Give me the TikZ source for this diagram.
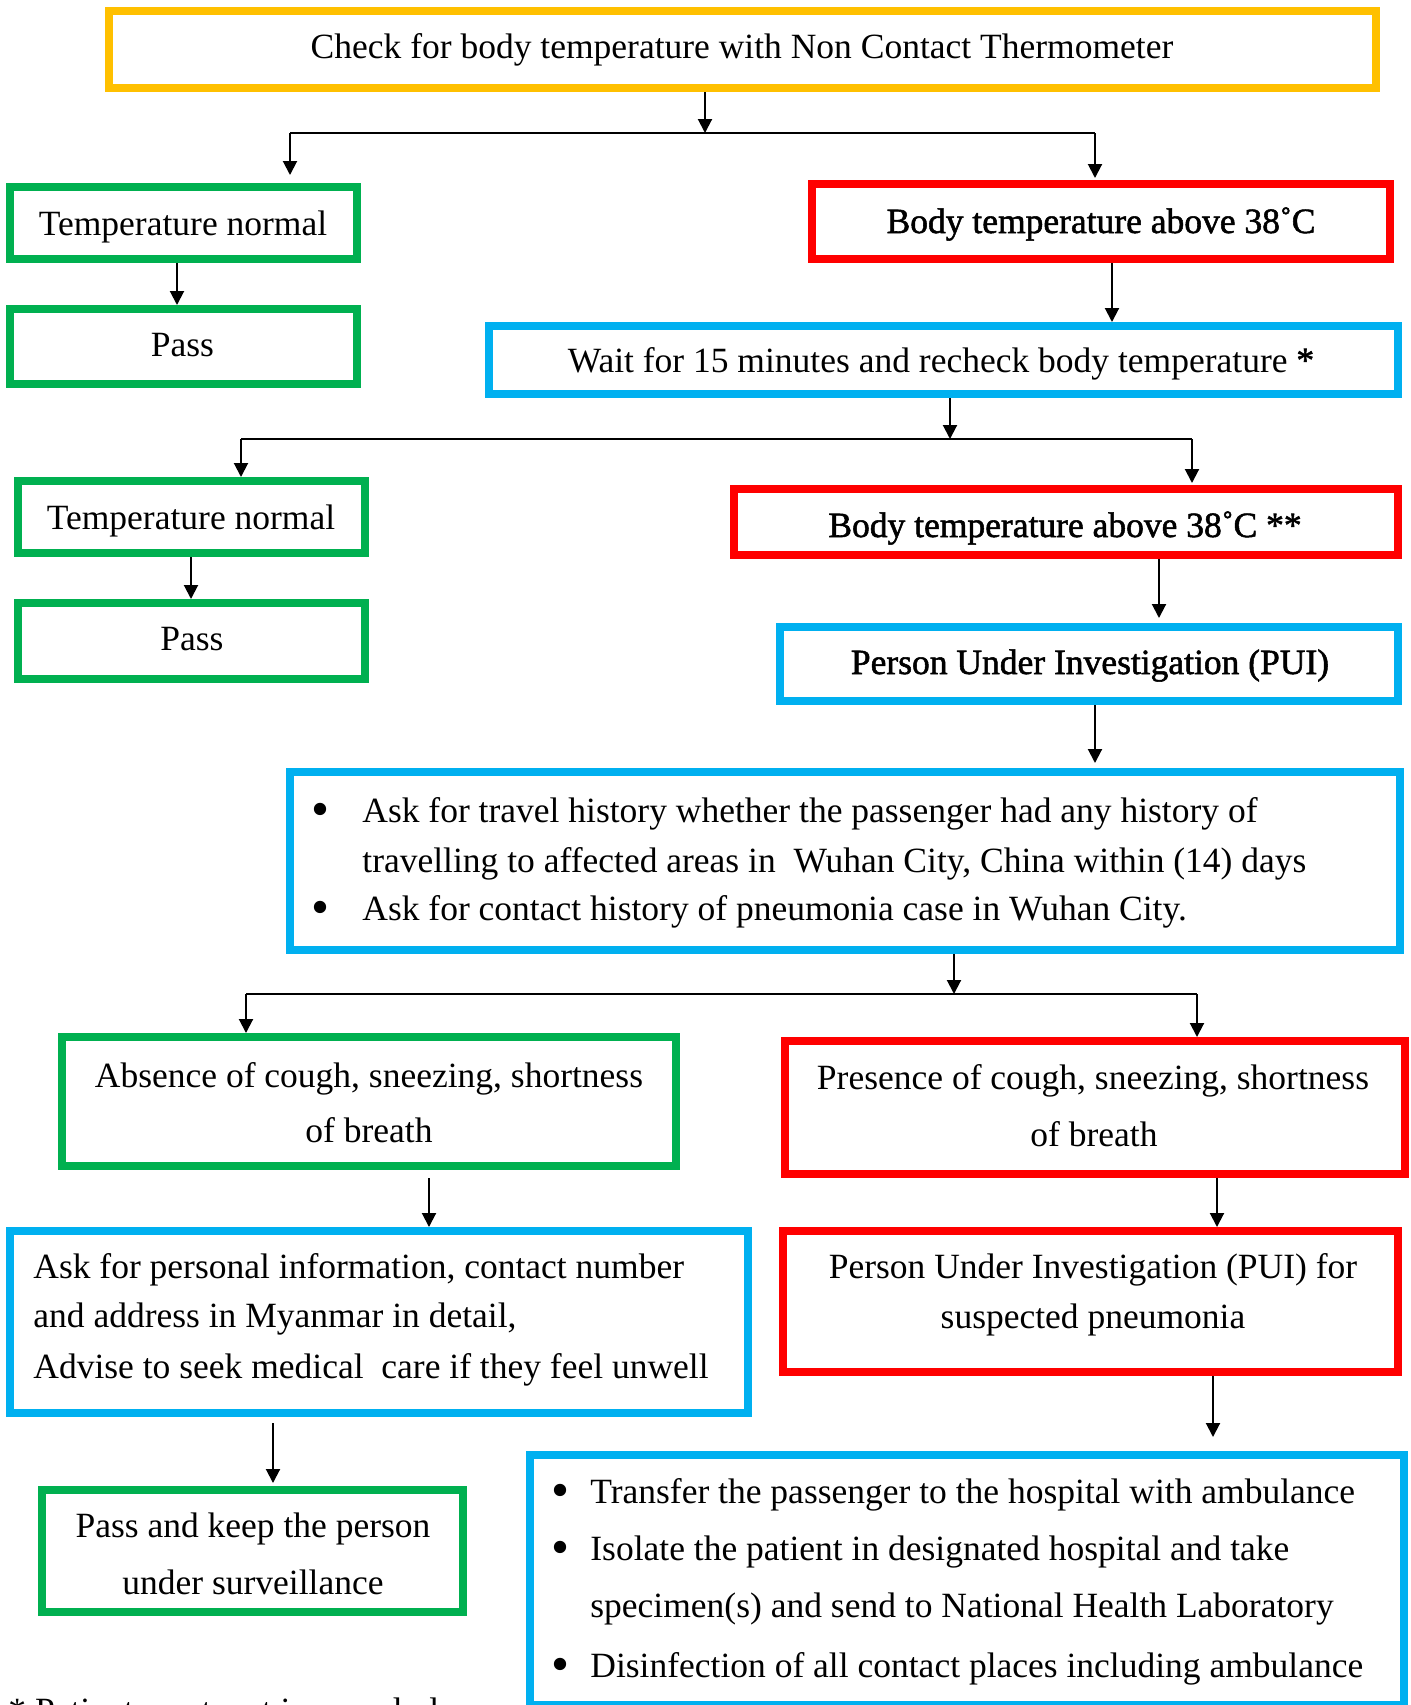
\documentclass[tikz,border=0pt]{standalone}
\usepackage{fontspec}
\setmainfont{Liberation Serif}
\newfontfamily\boldish{Liberation Serif}[FakeBold=1.5]
\usetikzlibrary{arrows.meta}
\definecolor{cyellow}{HTML}{FFC000}
\definecolor{cgreen}{HTML}{00B050}
\definecolor{cred}{HTML}{FF0000}
\definecolor{cblue}{HTML}{00B0F0}
\tikzset{
  box/.style={draw=#1, line width=4pt, rectangle, inner sep=0pt},
  txt/.style={anchor=base, inner sep=0pt, font=\fontsize{17.75pt}{20pt}\selectfont},
  ltxt/.style={txt, anchor=base west},
  bul/.style={txt},
  arr/.style={-{Triangle[length=7pt,width=7pt]}, line width=1pt, black},
  link/.style={line width=1pt, black},
}
\newcommand\bx[6]{\node[box=#2, minimum width=#5*0.5pt, minimum height=#6*0.5pt] (#1) at (#3,#4) {};}
\newcommand\bigbul{\raisebox{-2pt}{\scalebox{1.45}{•}}}
\begin{document}
\begin{tikzpicture}[x=0.5pt,y=-0.5pt]
\useasboundingbox (0,0) rectangle (1411,1705);
% boxes
\bx{A}{cyellow}{742.5}{49.5}{1267}{77}
\bx{B}{cgreen}{183.5}{223}{347}{72}
\bx{C}{cgreen}{183.5}{346.5}{347}{75}
\bx{D}{cred}{1101}{221.5}{578}{75}
\bx{E}{cblue}{943.5}{360}{909}{68}
\bx{F}{cgreen}{191.5}{517}{347}{72}
\bx{G}{cgreen}{191.5}{641}{347}{76}
\bx{H}{cred}{1066}{522}{664}{66}
\bx{I}{cblue}{1089}{664}{618}{74}
\bx{J}{cblue}{845}{861}{1110}{178}
\bx{K}{cgreen}{369}{1101.5}{614}{129}
\bx{L}{cred}{1095}{1107.5}{620}{133}
\bx{M}{cblue}{379}{1322}{738}{182}
\bx{N}{cred}{1090.5}{1301.5}{615}{141}
\bx{O}{cgreen}{252.5}{1551}{421}{122}
\bx{P}{cblue}{967}{1580}{874}{250}
% texts
\node[txt] (tA) at (742,58) {Check for body temperature with Non Contact Thermometer};
\node[txt] (tB) at (183,235) {Temperature normal};
\node[txt] (tC) at (182.5,356) {Pass};
\node[txt] (tD) at (1101,233) {\boldish Body temperature above 38˚C};
\node[txt] (tE) at (941,372) {Wait for 15 minutes and recheck body temperature {\boldish *}};
\node[txt] (tF) at (191,529) {Temperature normal};
\node[txt] (tG) at (192,650) {Pass};
\node[txt] (tH) at (1065,537) {\boldish Body temperature above 38˚C **};
\node[txt] (tI) at (1090,674) {\boldish Person Under Investigation (PUI)};
\node[bul] (bJ1) at (321,822) {\bigbul};
\node[bul] (bJ3) at (321,920) {\bigbul};
\node[ltxt] (tJ1) at (362,822) {Ask for travel history whether the passenger had any history of};
\node[ltxt] (tJ2) at (362,872) {travelling to affected areas in\ \ Wuhan City, China within (14) days};
\node[ltxt] (tJ3) at (362,920) {Ask for contact history of pneumonia case in Wuhan City.};
\node[txt] (tK1) at (369,1087) {Absence of cough, sneezing, shortness};
\node[txt] (tK2) at (369,1142) {of breath};
\node[txt] (tL1) at (1093,1089) {Presence of cough, sneezing, shortness};
\node[txt] (tL2) at (1094,1146) {of breath};
\node[ltxt] (tM1) at (33,1278) {Ask for personal information, contact number};
\node[ltxt] (tM2) at (33,1327) {and address in Myanmar in detail,};
\node[ltxt] (tM3) at (33,1378) {Advise to seek medical\ \ care if they feel unwell};
\node[txt] (tN1) at (1093,1278) {Person Under Investigation (PUI) for};
\node[txt] (tN2) at (1093,1328) {suspected pneumonia};
\node[txt] (tO1) at (253,1537) {Pass and keep the person};
\node[txt] (tO2) at (253,1594) {under surveillance};
\node[bul] (bP1) at (561,1503) {\bigbul};
\node[bul] (bP2) at (561,1560) {\bigbul};
\node[bul] (bP4) at (561,1677) {\bigbul};
\node[ltxt] (tP1) at (590,1503) {Transfer the passenger to the hospital with ambulance};
\node[ltxt] (tP2) at (590,1560) {Isolate the patient in designated hospital and take};
\node[ltxt] (tP3) at (590,1617) {specimen(s) and send to National Health Laboratory};
\node[ltxt] (tP4) at (590,1677) {Disinfection of all contact places including ambulance};
\node[ltxt] (tfoot) at (8,1722) {* Patient must rest in a cool place};
% connectors
\coordinate (j1) at (705,133);
\coordinate (j1l) at (290,133);
\coordinate (j1r) at (1095,133);
\draw[arr] (A.south -| j1) -- (j1);
\draw[link] (j1l) -- (j1r);
\draw[arr, shorten >=4pt] (j1l) -- (j1l |- B.north);
\draw[arr, shorten >=1pt] (j1r) -- (j1r |- D.north);
\coordinate (x1) at (177,0);
\draw[arr] (B.south -| x1) -- (C.north -| x1);
\coordinate (x2) at (1112,0);
\draw[arr] (D.south -| x2) -- (E.north -| x2);
\coordinate (j2) at (950,439);
\coordinate (j2l) at (241,439);
\coordinate (j2r) at (1192,439);
\draw[arr] (E.south -| j2) -- (j2);
\draw[link] (j2l) -- (j2r);
\draw[arr] (j2l) -- (j2l |- F.north);
\draw[arr, shorten >=1pt] (j2r) -- (j2r |- H.north);
\coordinate (x3) at (191,0);
\draw[arr] (F.south -| x3) -- (G.north -| x3);
\coordinate (x4) at (1159,0);
\draw[arr, shorten >=2.5pt] (H.south -| x4) -- (I.north -| x4);
\coordinate (x5) at (1095,0);
\draw[arr, shorten >=2.5pt] (I.south -| x5) -- (J.north -| x5);
\coordinate (j3) at (954,994);
\coordinate (j3l) at (246,994);
\coordinate (j3r) at (1197,994);
\draw[arr] (J.south -| j3) -- (j3);
\draw[link] (j3l) -- (j3r);
\draw[arr] (j3l) -- (j3l |- K.north);
\draw[arr] (j3r) -- (j3r |- L.north);
\coordinate (x6) at (429,0);
\draw[arr, shorten <=4pt] (K.south -| x6) -- (M.north -| x6);
\coordinate (x7) at (1217,0);
\draw[arr] (L.south -| x7) -- (N.north -| x7);
\coordinate (x8) at (273,0);
\draw[arr, shorten <=3pt, shorten >=1.5pt] (M.south -| x8) -- (O.north -| x8);
\coordinate (x9) at (1213,0);
\draw[arr, shorten >=7pt] (N.south -| x9) -- (P.north -| x9);
\end{tikzpicture}
\end{document}
